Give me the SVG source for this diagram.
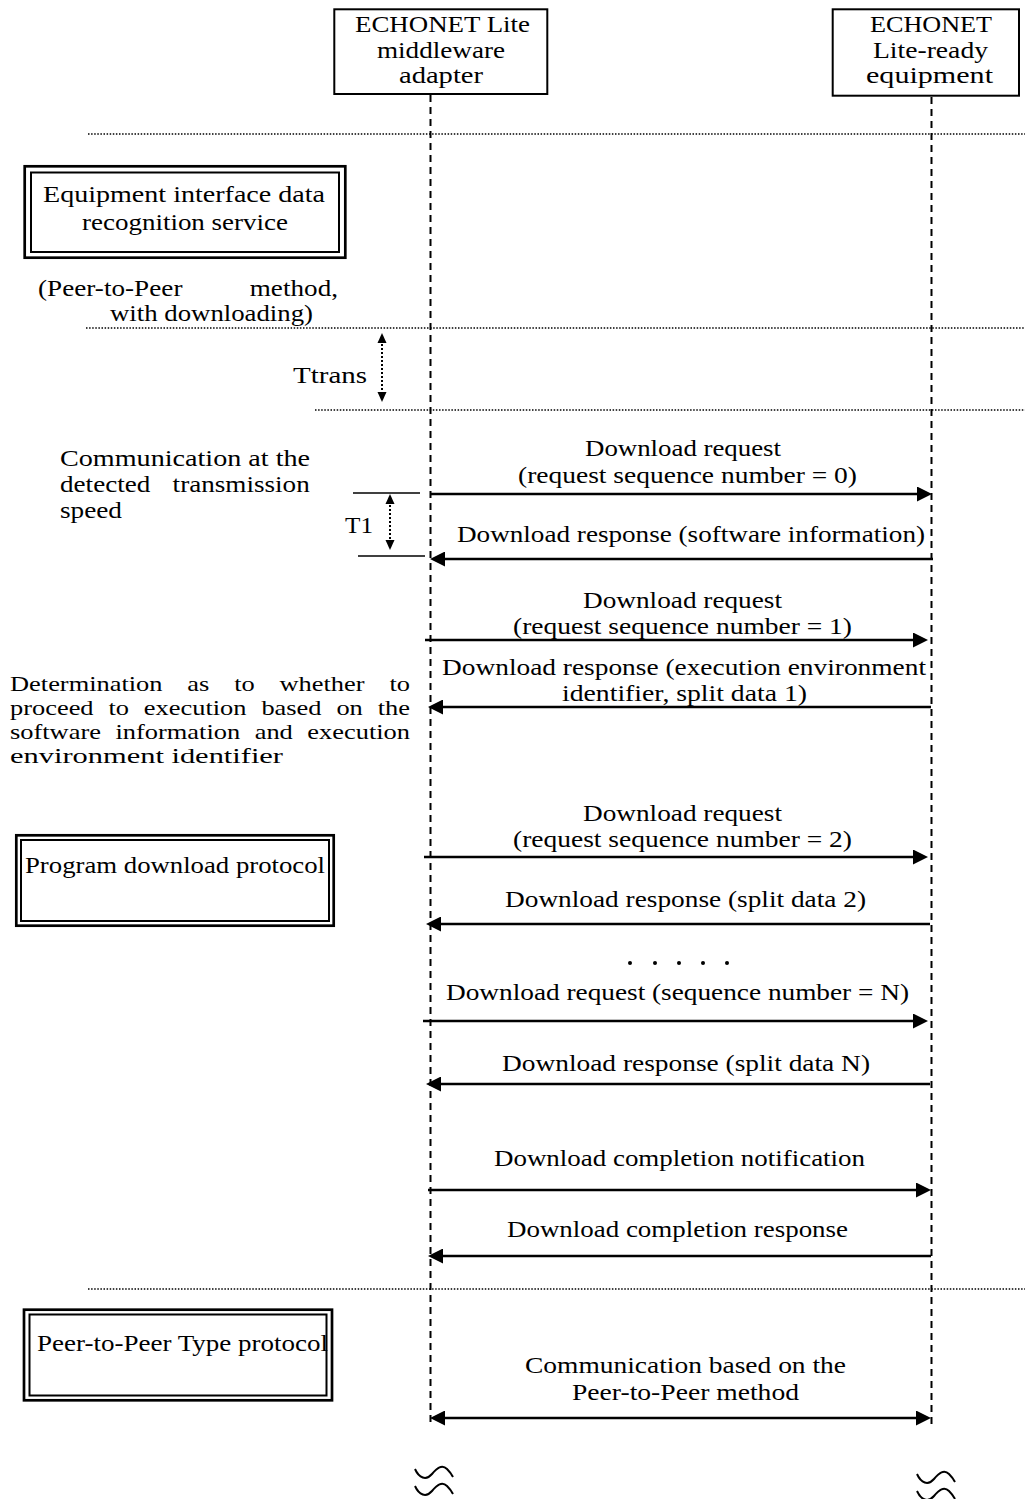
<svg xmlns="http://www.w3.org/2000/svg" width="1025" height="1499" viewBox="0 0 1025 1499">
<style>
.t{font-family:"Liberation Serif","Times New Roman",serif;font-size:24px;fill:#000}
.ts{font-family:"Liberation Serif","Times New Roman",serif;font-size:22px;fill:#000}
.box{fill:#fff;stroke:#000;stroke-width:2}
.dbo{fill:none;stroke:#000;stroke-width:2.7}
.dbi{fill:none;stroke:#000;stroke-width:2}
.life{fill:none;stroke:#000;stroke-width:2;stroke-dasharray:7 5}
.sep{fill:none;stroke:#000;stroke-width:1.3;stroke-dasharray:1.5 1.6}
.msg{fill:none;stroke:#000;stroke-width:2.5;marker-end:url(#ah)}
.msg2{fill:none;stroke:#000;stroke-width:2.5;marker-start:url(#ah);marker-end:url(#ah)}
.darr{fill:none;stroke:#000;stroke-width:2;stroke-dasharray:2 2;marker-start:url(#sh);marker-end:url(#sh)}
.tick{fill:none;stroke:#000;stroke-width:1.5}
.sq{fill:none;stroke:#000;stroke-width:2}
</style>
<defs>
<marker id="ah" viewBox="0 0 15 15" refX="11" refY="7.5" markerWidth="15" markerHeight="15" markerUnits="userSpaceOnUse" orient="auto-start-reverse"><path d="M0,0 L15,7.5 L0,15 Z" fill="#000"/></marker>
<marker id="sh" viewBox="0 0 10 10" refX="7" refY="5" markerWidth="10" markerHeight="10" markerUnits="userSpaceOnUse" orient="auto-start-reverse"><path d="M0,0.5 L10,5 L0,9.5 Z" fill="#000"/></marker>
<path id="wave" d="M0,0 C4,9 11,12 17,5 C22,-1 27,-5 32,0 C35,3 37,6 38,8"/>
</defs>

<g id="separators">
<line class="sep" x1="88" y1="134" x2="1025" y2="134"/>
<line class="sep" x1="86" y1="328" x2="1025" y2="328"/>
<line class="sep" x1="315" y1="410" x2="1025" y2="410"/>
<line class="sep" x1="88" y1="1289" x2="1025" y2="1289"/>
</g>

<g id="lifelines">
<line class="life" x1="430.5" y1="95" x2="430.5" y2="1425"/>
<line class="life" x1="931.5" y1="97" x2="931.5" y2="1425"/>
</g>

<g id="node-adapter">
<rect class="box" x="334.3" y="9.3" width="213" height="84.7"/>
<text class="t" x="355" y="32" textLength="175" lengthAdjust="spacingAndGlyphs">ECHONET Lite</text>
<text class="t" x="377" y="58" textLength="128" lengthAdjust="spacingAndGlyphs">middleware</text>
<text class="t" x="399" y="83" textLength="84" lengthAdjust="spacingAndGlyphs">adapter</text>
</g>

<g id="node-equipment">
<rect class="box" x="832.7" y="9.3" width="186.3" height="86.4"/>
<text class="t" x="870" y="32" textLength="122" lengthAdjust="spacingAndGlyphs">ECHONET</text>
<text class="t" x="873" y="58" textLength="115" lengthAdjust="spacingAndGlyphs">Lite-ready</text>
<text class="t" x="866" y="83" textLength="127" lengthAdjust="spacingAndGlyphs">equipment</text>
</g>

<g id="node-recognition-service">
<rect class="dbo" x="24.7" y="166.3" width="320.6" height="91.4"/>
<rect class="dbi" x="31" y="172.5" width="308" height="79.5"/>
<text class="t" x="43" y="202" textLength="282" lengthAdjust="spacingAndGlyphs">Equipment interface data</text>
<text class="t" x="82" y="230" textLength="206" lengthAdjust="spacingAndGlyphs">recognition service</text>
</g>

<g id="note-p2p-download">
<text class="t" transform="translate(38,296) scale(1.13,1)" word-spacing="53.5" textLength="265.5" lengthAdjust="spacing">(Peer-to-Peer method,</text>
<text class="t" x="110" y="321" textLength="203" lengthAdjust="spacingAndGlyphs">with downloading)</text>
</g>

<g id="timing-ttrans">
<line class="darr" x1="382" y1="336" x2="382" y2="399"/>
<text class="t" x="293" y="383" textLength="74" lengthAdjust="spacingAndGlyphs">Ttrans</text>
</g>

<g id="note-speed">
<text class="t" x="60" y="466" textLength="250" lengthAdjust="spacingAndGlyphs">Communication at the</text>
<text class="t" transform="translate(60,492) scale(1.13,1)" word-spacing="13.7" textLength="221" lengthAdjust="spacing">detected transmission</text>
<text class="t" x="60" y="518" textLength="62" lengthAdjust="spacingAndGlyphs">speed</text>
</g>

<g id="timing-t1">
<line class="tick" x1="353" y1="493" x2="420" y2="493"/>
<line class="tick" x1="358" y1="556" x2="425" y2="556"/>
<line class="darr" x1="390" y1="497" x2="390" y2="547"/>
<text class="t" x="345" y="533" textLength="28" lengthAdjust="spacingAndGlyphs">T1</text>
</g>

<g id="note-determination">
<text class="ts" transform="translate(10,691) scale(1.2,1)" word-spacing="15.2" textLength="333.3" lengthAdjust="spacing">Determination as to whether to</text>
<text class="ts" transform="translate(10,715) scale(1.2,1)" word-spacing="6.9" textLength="333.3" lengthAdjust="spacing">proceed to execution based on the</text>
<text class="ts" transform="translate(10,739) scale(1.2,1)" word-spacing="6.6" textLength="333.3" lengthAdjust="spacing">software information and execution</text>
<text class="ts" x="10" y="763" textLength="273" lengthAdjust="spacingAndGlyphs">environment identifier</text>
</g>

<g id="node-program-download">
<rect class="dbo" x="16.3" y="835.3" width="317.4" height="90.4"/>
<rect class="dbi" x="21" y="840" width="308" height="81"/>
<text class="t" x="25" y="873" textLength="300" lengthAdjust="spacingAndGlyphs">Program download protocol</text>
</g>

<g id="node-p2p-protocol">
<rect class="dbo" x="24" y="1309.7" width="308" height="90.6"/>
<rect class="dbi" x="29.5" y="1314.5" width="297" height="81"/>
<text class="t" x="37" y="1351" textLength="291" lengthAdjust="spacingAndGlyphs">Peer-to-Peer Type protocol</text>
</g>

<g id="connectors">
<path class="msg" d="M430,494 H928"/>
<path class="msg" d="M933,559 H434"/>
<path class="msg" d="M425,640 H924"/>
<path class="msg" d="M931,707 H432"/>
<path class="msg" d="M424,857 H924"/>
<path class="msg" d="M930,924 H430"/>
<path class="msg" d="M423,1021 H924"/>
<path class="msg" d="M930,1084 H430"/>
<path class="msg" d="M428,1190 H927"/>
<path class="msg" d="M931,1256 H432"/>
<path class="msg2" d="M434,1418 H927"/>
</g>

<g id="message-labels">
<text class="t" x="585" y="456" textLength="196" lengthAdjust="spacingAndGlyphs">Download request</text>
<text class="t" x="518" y="483" textLength="339" lengthAdjust="spacingAndGlyphs">(request sequence number = 0)</text>
<text class="t" x="457" y="542" textLength="468" lengthAdjust="spacingAndGlyphs">Download response (software information)</text>
<text class="t" x="583" y="608" textLength="199" lengthAdjust="spacingAndGlyphs">Download request</text>
<text class="t" x="513" y="634" textLength="339" lengthAdjust="spacingAndGlyphs">(request sequence number = 1)</text>
<text class="t" x="442" y="675" textLength="484" lengthAdjust="spacingAndGlyphs">Download response (execution environment</text>
<text class="t" x="562" y="701" textLength="245" lengthAdjust="spacingAndGlyphs">identifier, split data 1)</text>
<text class="t" x="583" y="821" textLength="199" lengthAdjust="spacingAndGlyphs">Download request</text>
<text class="t" x="513" y="847" textLength="339" lengthAdjust="spacingAndGlyphs">(request sequence number = 2)</text>
<text class="t" x="505" y="907" textLength="361" lengthAdjust="spacingAndGlyphs">Download response (split data 2)</text>
<text class="t" x="446" y="1000" textLength="463" lengthAdjust="spacingAndGlyphs">Download request (sequence number = N)</text>
<text class="t" x="502" y="1071" textLength="368" lengthAdjust="spacingAndGlyphs">Download response (split data N)</text>
<text class="t" x="494" y="1166" textLength="371" lengthAdjust="spacingAndGlyphs">Download completion notification</text>
<text class="t" x="507" y="1237" textLength="341" lengthAdjust="spacingAndGlyphs">Download completion response</text>
<text class="t" x="525" y="1373" textLength="321" lengthAdjust="spacingAndGlyphs">Communication based on the</text>
<text class="t" x="572" y="1400" textLength="227" lengthAdjust="spacingAndGlyphs">Peer-to-Peer method</text>
</g>

<g id="ellipsis">
<circle cx="630" cy="963" r="2"/>
<circle cx="655" cy="963" r="2"/>
<circle cx="679" cy="963" r="2"/>
<circle cx="703" cy="963" r="2"/>
<circle cx="727" cy="963" r="2"/>
</g>

<g id="breaks">
<use href="#wave" class="sq" x="415" y="1469"/>
<use href="#wave" class="sq" x="415" y="1486"/>
<use href="#wave" class="sq" x="917" y="1474"/>
<use href="#wave" class="sq" x="917" y="1491"/>
</g>
</svg>
